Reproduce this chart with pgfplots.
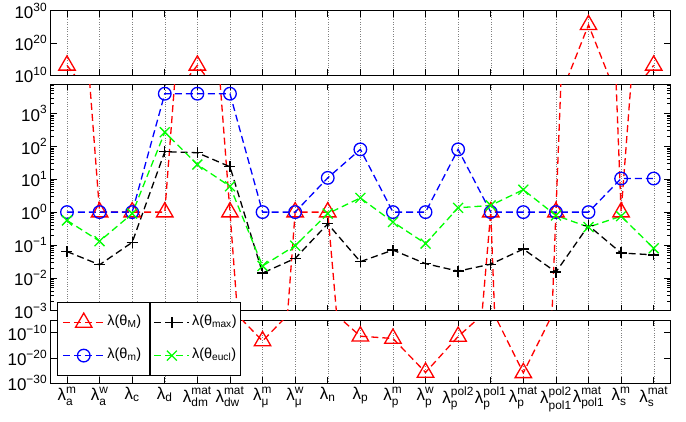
\documentclass[border=0pt]{standalone}
\usepackage{fontspec}
\setmainfont{Liberation Sans}
\usepackage{amsmath}
\usepackage{pgfplots}
\pgfplotsset{compat=1.18}
\usepackage{pgfplotstable}

% eigenvalue estimates per parameter (index, theta_M, theta_m, theta_max, theta_eucl)
\pgfplotstableread{
i  M        m     max    eucl
0  1e13     1     0.063  0.56
1  1        1     0.025  0.13
2  1        1     0.12   0.9
3  1        4000  69     270
4  1e13     4000  64     28
5  1        4000  24     6.1
6  5e-14    1     0.014  0.023
7  1        1     0.039  0.095
8  1        11    0.44   0.9
9  4e-12    81    0.031  2.7
10 5e-13    1     0.07   0.5
11 2e-26    1     0.027  0.11
12 3e-12    81    0.016  1.35
13 1        1     0.026  1.6
14 1.3e-26  1     0.075  4.8
15 1        1     0.015  0.79
16 4e25     1     0.39   0.35
17 1        10.5  0.057  0.75
18 1e13     10.5  0.05   0.079
}\lambdas

\newcommand{\fs}{\fontsize{17}{19}\selectfont}
\newcommand{\lfs}{\fontsize{14.5}{16}\selectfont}
\newcommand{\tx}[1]{\text{#1}}
\newcommand{\lent}[2]{\makebox[#1pt][l]{\raisebox{4pt}{#2}}}

\pgfplotsset{
  mypanel/.style={scale only axis, width=619.3pt, xmin=-0.5, xmax=18.5,
    xtick={0,...,18}, xticklabels={},
    xmajorgrids, major grid style={dotted, gray},
    tick align=inside, major tick length=6pt, minor tick length=3.5pt,
    axis line style={line width=0.8pt}, tick style={black, line width=0.6pt},
    ticklabel style={font=\fs}},
  serM/.style={red, line width=1.3pt, dash pattern=on 7pt off 4pt,
    mark=triangle, mark size=9.5pt, mark options={solid}},
  serm/.style={blue, line width=1.3pt, dash pattern=on 7pt off 4pt,
    mark=o, mark size=6.3pt, mark options={solid}},
  sermax/.style={black, line width=1.3pt, dash pattern=on 7pt off 4pt,
    mark=+, mark size=5.5pt, mark options={solid}},
  sereucl/.style={green, line width=1.3pt, dash pattern=on 7pt off 4pt,
    mark=x, mark size=7pt, mark options={solid}},
  mylegbox/.style={hide axis, scale only axis, width=10pt, height=10pt,
    xmin=0, xmax=1, ymin=0, ymax=1,
    legend image code/.code={\draw[mark repeat=2,mark phase=2,##1]
      plot coordinates {(0pt,0pt) (#1pt,0pt) (2*#1pt,0pt)};},
    legend style={at={(0,0)}, anchor=south west, draw=black, line width=0.8pt,
      fill=white, font=\lfs, row sep=13pt, inner xsep=5pt, inner ysep=10pt,
      nodes={inner sep=2pt}},
    legend cell align=left},
}

\newcommand{\allseries}{%
  \addplot[serM] table[x=i, y=M] {\lambdas};
  \addplot[serm] table[x=i, y=m] {\lambdas};
  \addplot[sermax] table[x=i, y=max] {\lambdas};
  \addplot[sereucl] table[x=i, y=eucl] {\lambdas};
}

\begin{document}
\begin{tikzpicture}
\path[use as bounding box] (0pt,0pt) rectangle (686pt,421pt);

% top panel
\begin{axis}[mypanel, ymode=log, at={(50.7pt,346pt)}, height=64.3pt,
  ymin=1e10, ymax=1e30, ytick={1e10,1e20,1e30}, yminorticks=false,
  yticklabels={$\tx{10}^{\tx{10}}$, $\tx{10}^{\tx{20}}$, $\tx{10}^{\tx{30}}$}]
\allseries
\end{axis}

% middle panel
\begin{axis}[mypanel, ymode=log, at={(50.7pt,110.3pt)}, height=226.7pt,
  ymin=1e-3, ymax=7900, ytick={1e-3,1e-2,1e-1,1,10,100,1000},
  minor ytick={0.002,0.003,0.004,0.005,0.006,0.007,0.008,0.009,
    0.02,0.03,0.04,0.05,0.06,0.07,0.08,0.09,
    0.2,0.3,0.4,0.5,0.6,0.7,0.8,0.9,
    2,3,4,5,6,7,8,9,20,30,40,50,60,70,80,90,
    200,300,400,500,600,700,800,900,2000,3000,4000,5000,6000,7000},
  yticklabels={$\tx{10}^{\tx{−3}}$, $\tx{10}^{\tx{−2}}$, $\tx{10}^{\tx{−1}}$,
    $\tx{10}^{\tx{0}}$, $\tx{10}^{\tx{1}}$, $\tx{10}^{\tx{2}}$, $\tx{10}^{\tx{3}}$}]
\allseries
\end{axis}

% bottom panel
\begin{axis}[mypanel, ymode=log, at={(50.7pt,37.7pt)}, height=63.3pt,
  ymin=1e-30, ymax=1e-5, ytick={1e-30,1e-20,1e-10}, yminorticks=false,
  yticklabels={$\tx{10}^{\tx{−30}}$, $\tx{10}^{\tx{−20}}$, $\tx{10}^{\tx{−10}}$},
  xticklabels={$\tx{λ}^{\tx{m}}_{\tx{a}}$, $\tx{λ}^{\tx{w}}_{\tx{a}}$, $\tx{λ}_{\tx{c}}$,
    $\tx{λ}_{\tx{d}}$, $\tx{λ}^{\tx{mat}}_{\tx{dm}}$, $\tx{λ}^{\tx{mat}}_{\tx{dw}}$,
    $\tx{λ}^{\tx{m}}_{\tx{μ}}$, $\tx{λ}^{\tx{w}}_{\tx{μ}}$, $\tx{λ}_{\tx{n}}$,
    $\tx{λ}_{\tx{p}}$, $\tx{λ}^{\tx{m}}_{\tx{p}}$, $\tx{λ}^{\tx{w}}_{\tx{p}}$,
    $\tx{λ}^{\tx{pol2}}_{\tx{p}}$, $\tx{λ}^{\tx{pol1}}_{\tx{p}}$, $\tx{λ}^{\tx{mat}}_{\tx{p}}$,
    $\tx{λ}^{\tx{pol2}}_{\tx{pol1}}$, $\tx{λ}^{\tx{mat}}_{\tx{pol1}}$,
    $\tx{λ}^{\tx{m}}_{\tx{s}}$, $\tx{λ}^{\tx{mat}}_{\tx{s}}$}]
\allseries
\end{axis}

% legends (two adjoining boxes, as in the original)
\begin{axis}[mylegbox=21, at={(56.7pt,45pt)}, legend style={name=legA}]
\addlegendimage{serM}
\addlegendentry{\lent{35}{λ(θ\textsubscript{M})}}
\addlegendimage{serm}
\addlegendentry{\lent{35}{λ(θ\textsubscript{m})}}
\end{axis}
\begin{axis}[mylegbox=17.5, at={(legA.south east)}, legend style={inner xsep=3.5pt}]
\addlegendimage{sermax}
\addlegendentry{\lent{43}{λ(θ\textsubscript{max})}}
\addlegendimage{sereucl}
\addlegendentry{\lent{43}{λ(θ\textsubscript{eucl})}}
\end{axis}
\end{tikzpicture}
\end{document}
